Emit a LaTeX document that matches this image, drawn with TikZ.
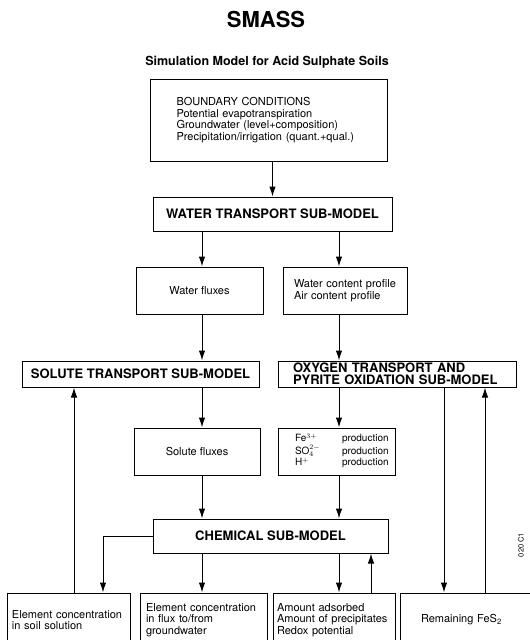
\documentclass[tikz,border=0pt]{standalone}
\usepackage{fontspec}
\setmainfont{TeX Gyre Heros}
\usetikzlibrary{arrows.meta}

\begin{document}
\begin{tikzpicture}[x=1pt, y=-1pt, >={Latex[length=10pt,width=6.5pt]}, line width=1pt, font=\fontsize{11}{11.5}\selectfont]
	\tikzset{
		box/.style={draw, inner sep=0pt, align=left},
		head/.style={draw, inner sep=0pt, align=center, font=\fontsize{13}{12}\selectfont\bfseries},
	}
	\useasboundingbox (0,0) rectangle (530,640);
	\clip (0,0) rectangle (530,640);
	% columns of the vertical connectors
	\coordinate (colL) at (202,0);
	\coordinate (colR) at (339,0);
	\coordinate (colA) at (74,0);
	\coordinate (colS) at (103,0);
	\coordinate (colB) at (371,0);
	\coordinate (colP) at (444,0);
	\coordinate (colQ) at (485,0);
	% title
	\node[font=\fontsize{22}{24}\selectfont\bfseries] (title) at (266,19) {SMASS};
	\node[font=\fontsize{12.5}{14}\selectfont\bfseries] (subtitle) at (267,62) {Simulation Model for Acid Sulphate Soils};
	% upper part
	\node[box, minimum width=237pt, minimum height=82pt, text width=184pt] (bound) at (268.5,120)
		{BOUNDARY CONDITIONS\\Potential evapotranspiration\\Groundwater (level+composition)\\Precipitation/irrigation (quant.+qual.)};
	\node[head, minimum width=239pt, minimum height=34pt] (water) at (272.5,214) {WATER TRANSPORT SUB-MODEL};
	\node[box, minimum width=127pt, minimum height=47pt, align=center] (wflux) at (199.5,290.5) {Water fluxes};
	\node[box, minimum width=124pt, minimum height=47pt, text width=102pt] (wcont) at (345,290.5)
		{Water content profile\\Air content profile};
	% sub-models
	\node[head, minimum width=237pt, minimum height=26pt] (solute) at (140.5,374) {SOLUTE TRANSPORT SUB-MODEL};
	\node[head, minimum width=238pt, minimum height=26pt, text width=208pt, align=left] (oxygen) at (397,374)
		{OXYGEN TRANSPORT AND\\PYRITE OXIDATION SUB-MODEL};
	\node[box, minimum width=126pt, minimum height=47pt, align=center] (sflux) at (197,451.5) {Solute fluxes};
	\node[box, minimum width=117pt, minimum height=47pt, text width=83pt, font=\fontsize{10}{11.5}\selectfont] (prod) at (336.5,451.5)
		{\begin{tabular}{@{}p{47pt}@{}l@{}}
			Fe$^{3+}$ & production\\
			SO$_4^{2-}$ & production\\
			H$^{+}$ & production
		\end{tabular}};
	\node[head, minimum width=235pt, minimum height=34pt] (chem) at (270.5,536) {CHEMICAL SUB-MODEL};
	% results (cut off at the bottom)
	\node[box, minimum width=123pt, minimum height=54pt, text width=113pt] (elsol) at (68.5,620)
		{Element concentration\\in soil solution};
	\node[box, minimum width=127pt, minimum height=54pt, text width=115pt] (elflux) at (203.5,620)
		{Element concentration\\in flux to/from\\groundwater};
	\node[box, minimum width=122pt, minimum height=54pt, text width=114pt] (amount) at (334,620)
		{Amount adsorbed\\Amount of precipitates\\Redox potential};
	\node[box, minimum width=140pt, minimum height=54pt, text width=98pt] (remain) at (470,620)
		{Remaining FeS\textsubscript{2}};
	\node[rotate=90, font=\fontsize{7.5}{8}\selectfont] (code) at (521,545) {020 C1};
	% connectors
	\draw[->] (bound.south -| water.north) -- (water.north);
	\draw[->] (water.south -| colL) -- (wflux.north -| colL);
	\draw[->] (water.south -| colR) -- (wcont.north -| colR);
	\draw[->] (wflux.south -| colL) -- (solute.north -| colL);
	\draw[->] (wcont.south -| colR) -- (oxygen.north -| colR);
	\draw[->] (solute.south -| colL) -- (sflux.north -| colL);
	\draw[->] (oxygen.south -| colR) -- (prod.north -| colR);
	\draw[->] (sflux.south -| colL) -- (chem.north -| colL);
	\draw[->] (prod.south -| colR) -- (chem.north -| colR);
	\draw[->] (chem.west) -| (elsol.north -| colS);
	\draw[->] (chem.south -| colL) -- (elflux.north -| colL);
	\draw[->] (chem.south -| colR) -- (amount.north -| colR);
	\draw[->] (amount.north -| colB) -- (chem.south -| colB);
	\draw[->] (elsol.north -| colA) -- (solute.south -| colA);
	\draw[->] (oxygen.south -| colP) -- (remain.north -| colP);
	\draw[->] (remain.north -| colQ) -- (oxygen.south -| colQ);
\end{tikzpicture}
\end{document}
